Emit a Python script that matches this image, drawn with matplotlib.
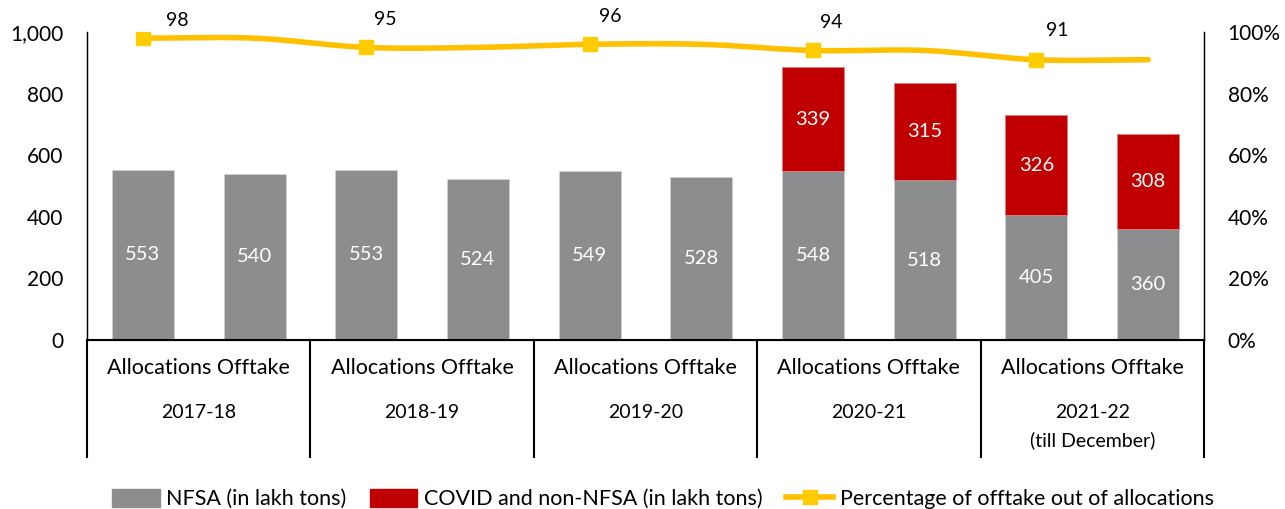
import matplotlib
matplotlib.use("Agg")
import matplotlib.pyplot as plt
import matplotlib.transforms as mtransforms
from matplotlib.patches import Patch
from matplotlib.lines import Line2D
from matplotlib.ticker import FuncFormatter
import numpy as np

plt.rcParams['font.family'] = ['Lato', 'DejaVu Sans']

# data
years = ['2017-18', '2018-19', '2019-20', '2020-21', '2021-22\n(till December)']
bar_names = ['Allocations', 'Offtake']
nfsa = [553, 540, 553, 524, 549, 528, 548, 518, 405, 360]
covid = [0, 0, 0, 0, 0, 0, 339, 315, 326, 308]
pct_year = [98, 95, 96, 94, 91]
pct_line = [98, 98, 95, 95, 96, 96, 94, 94, 91, 91]

GRAY = '#8c8d8f'
RED = '#c00000'
GOLD = '#ffc000'
MARK = '#ffcc00'

fig = plt.figure(figsize=(12.85, 5.09), dpi=100)
ax = fig.add_axes([87/1285, 1-340/509, (1204-87)/1285, 308/509])
ax2 = ax.twinx()

x = np.arange(len(nfsa))
w = 0.555
ax.bar(x, nfsa, width=w, color=GRAY, edgecolor='#d0d0d0', linewidth=0.6, zorder=2)
cx = [xi for xi, c in zip(x, covid) if c > 0]
cb = [n for n, c in zip(nfsa, covid) if c > 0]
cv = [c for c in covid if c > 0]
ax.bar(cx, cv, width=w, bottom=cb, color=RED, edgecolor='#e08080', linewidth=0.6, zorder=2)

for i in range(len(x)):
    ax.text(x[i], nfsa[i]/2, str(nfsa[i]), ha='center', va='center', color='white', fontsize=14.5)
    if covid[i] > 0:
        ax.text(x[i], nfsa[i] + covid[i]/2, str(covid[i]), ha='center', va='center',
                color='white', fontsize=14.5)

ax.set_xlim(-0.5, len(x) - 0.5)
ax.set_ylim(0, 1000)
ax.set_yticks(range(0, 1001, 200))
ax.yaxis.set_major_formatter(FuncFormatter(lambda v, p: f'{int(v):,}'))
ax.set_xticks([])
ax.tick_params(axis='y', length=0, labelsize=15, pad=17)
ax.spines['top'].set_visible(False)
ax2.spines['top'].set_visible(False)
ax.spines['left'].set_linewidth(1)
ax2.spines['right'].set_linewidth(1)
ax.spines['bottom'].set_linewidth(1.5)

# smoothed percentage line (Catmull-Rom rendering through the points)
def smooth(xs, ys, n=30):
    xs = np.asarray(xs, float); ys = np.asarray(ys, float)
    px = np.concatenate([[2*xs[0]-xs[1]], xs, [2*xs[-1]-xs[-2]]])
    py = np.concatenate([[2*ys[0]-ys[1]], ys, [2*ys[-1]-ys[-2]]])
    ox, oy = [], []
    for k in range(1, len(px) - 2):
        t = np.linspace(0, 1, n, endpoint=False)
        for arr, out in ((px, ox), (py, oy)):
            p0, p1, p2, p3 = arr[k-1], arr[k], arr[k+1], arr[k+2]
            out.extend(0.5*((2*p1) + (-p0+p2)*t + (2*p0-5*p1+4*p2-p3)*t**2
                            + (-p0+3*p1-3*p2+p3)*t**3))
    ox.append(xs[-1]); oy.append(ys[-1])
    return np.array(ox), np.array(oy)

sx, sy = smooth(x, pct_line)
ax2.plot(sx, sy, color=GOLD, linewidth=4, solid_capstyle='round', zorder=3)
ax2.plot(x[::2], pct_year, linestyle='none', marker='s', markersize=10,
         color=MARK, zorder=4)
offsets = [(25, 13), (14, 20), (15, 20), (13, 20), (15, 21)]
for xi, v, off in zip(x[::2], pct_year, offsets):
    ax2.annotate(str(v), (xi, v), xytext=off, textcoords='offset points',
                 ha='center', va='center', fontsize=14)
ax2.set_ylim(0, 100)
ax2.set_yticks(range(0, 101, 20))
ax2.yaxis.set_major_formatter(FuncFormatter(lambda v, p: f'{int(v)}%'))
ax2.tick_params(axis='y', length=0, labelsize=15, pad=17)

# category table below the axis
trans = mtransforms.blended_transform_factory(ax.transData, ax.transAxes)
for b in np.arange(-0.5, len(x), 2):
    ax.plot([b, b], [0, -0.38], transform=trans, color='black', lw=1.5, clip_on=False)
for g, yr in enumerate(years):
    c = 2*g + 0.5
    ax.text(c, -0.09, ' '.join(bar_names), transform=trans, ha='center', va='center', fontsize=15.5)
    lines = yr.split('\n')
    ax.text(c, -0.237, lines[0], transform=trans, ha='center', va='center', fontsize=14)
    if len(lines) > 1:
        ax.text(c, -0.325, lines[1], transform=trans, ha='center', va='center', fontsize=14)

handles = [Patch(color=GRAY, label='NFSA (in lakh tons)'),
           Patch(color=RED, label='COVID and non-NFSA (in lakh tons)'),
           Line2D([0], [0], color=GOLD, lw=4, marker='s', markersize=10, markerfacecolor=MARK,
                  markeredgecolor=MARK, label='Percentage of offtake out of allocations')]
fig.legend(handles=handles, loc='center', bbox_to_anchor=(0.516, 0.02), ncol=3, frameon=False,
           fontsize=15.5, handlelength=2.2, handleheight=0.9, handletextpad=0.3, columnspacing=1.1,
           borderpad=0)

fig.savefig('out.png', dpi=100)
